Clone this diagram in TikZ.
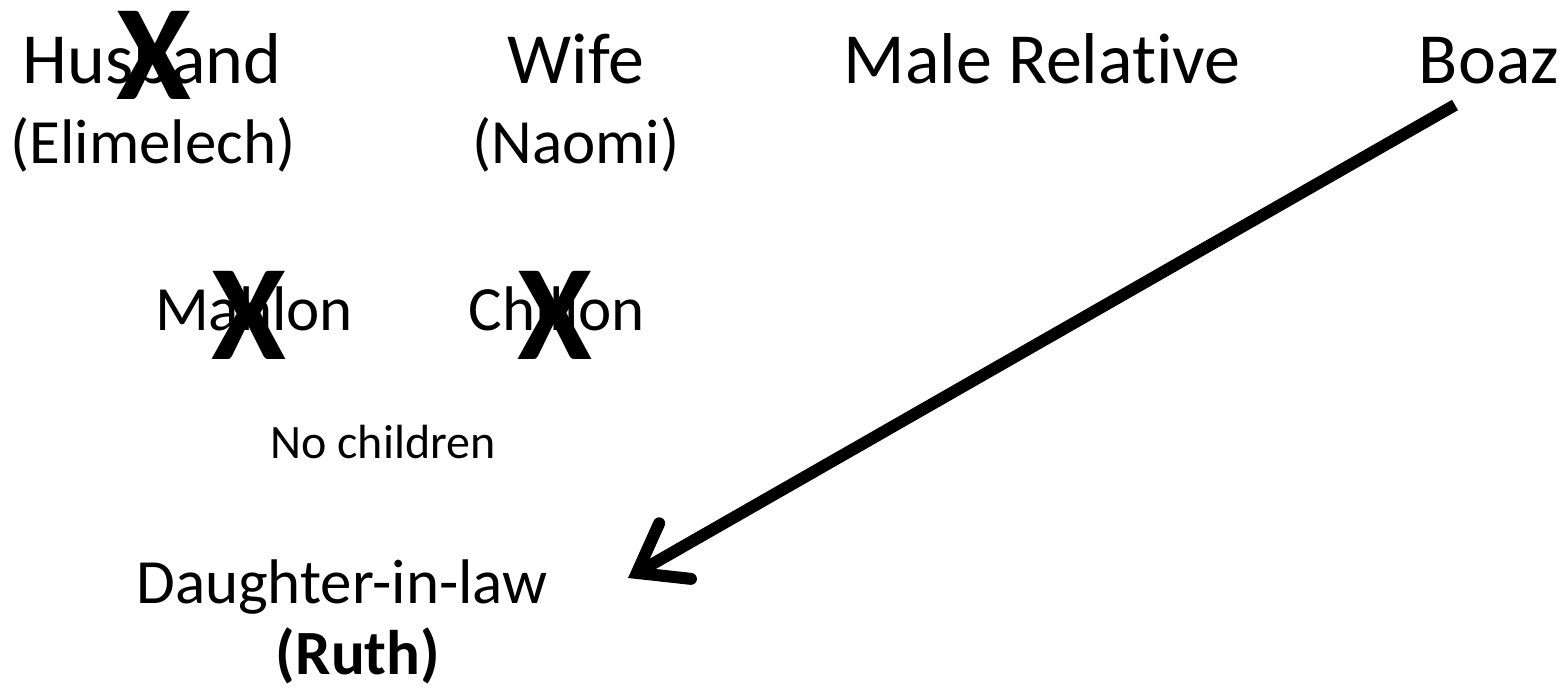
\documentclass[tikz,border=0pt]{standalone}
\usepackage{fontspec}
\setmainfont{Carlito}[Ligatures=NoCommon]
\usetikzlibrary{arrows.meta}

\begin{document}
\begin{tikzpicture}[x=0.5pt,y=-0.5pt,
    person/.style={font=\fontsize{36}{40}\selectfont, inner sep=0pt, anchor=base},
    kin/.style={font=\fontsize{31.5}{36}\selectfont, inner sep=0pt, anchor=base},
    note/.style={font=\fontsize{24}{28}\selectfont, inner sep=0pt, anchor=base},
    cross/.style={font=\fontsize{68}{70}\selectfont\bfseries, inner sep=0pt, anchor=base}]
    \useasboundingbox (0,0) rectangle (1564,690);

    \node[person] (husband) at (152,84) {Husband};
    \node[kin] (elimelech) at (153,163) {(Elimelech)};
    \node[person] (wife) at (576,84) {Wife};
    \node[kin] (naomi) at (576,163) {(Naomi)};
    \node[person] (relative) at (1042,84) {Male Relative};
    \node[person] (boaz) at (1489,84) {Boaz};

    \node[kin] (mahlon) at (254,330) {Mahlon};
    \node[kin] (chilion) at (557,330) {Chilion};
    \node[note] (nochildren) at (383,458) {No children};

    \node[kin] (daughter) at (342,603) {Daughter-in-law};
    \node[kin] (ruth) at (358,674) {\bfseries(Ruth)};

    \node[cross] (xhusband) at (154,100) {X};
    \node[cross] (xmahlon) at (249,359) {X};
    \node[cross] (xchilion) at (555,359) {X};

    \coordinate (from) at (1455,105);
    \coordinate (to) at (628,578);
    \draw[line width=6pt, -{Straight Barb[length=22pt, width=32pt, line cap=round, line join=miter]}] (from) -- (to);
\end{tikzpicture}
\end{document}
